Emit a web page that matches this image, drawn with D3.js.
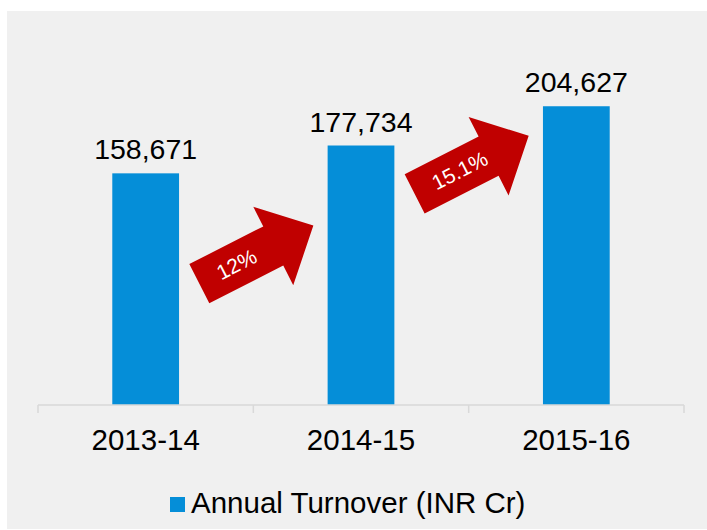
<!DOCTYPE html>
<html>
<head>
<meta charset="utf-8">
<script src="https://cdn.jsdelivr.net/npm/d3@7"></script>
<style>
  body { margin: 0; background: #fff; }
  svg { display: block; font-family: "Liberation Sans", Arial, sans-serif; }
</style>
</head>
<body>
<div id="chart"></div>
<script>
// chart data
var years = ["2013-14", "2014-15", "2015-16"];
var turnover = [158671, 177734, 204627];
var growthLabels = ["12%", "15.1%"];
// value level (in INR Cr) where each growth arrow sits
var growthAnchor = [103000, 164500];
var seriesName = "Annual Turnover (INR Cr)";

var width = 707, height = 530;

var svg = d3.select("#chart")
  .append("svg")
  .attr("width", width)
  .attr("height", height);

// grey chart area
svg.append("rect")
  .attr("x", 7)
  .attr("y", 11)
  .attr("width", width - 7)
  .attr("height", 518)
  .attr("fill", "#f0f0f0");

// scales
var x = d3.scaleBand()
  .domain(years)
  .range([38, 684])
  .paddingInner(0.69)
  .paddingOuter(0.345);

var y = d3.scaleLinear()
  .domain([0, 250000])
  .range([405, 40]);

// bars
svg.selectAll(".bar")
  .data(years)
  .join("rect")
  .attr("class", "bar")
  .attr("x", function (d) { return x(d); })
  .attr("y", function (d, i) { return y(turnover[i]); })
  .attr("width", x.bandwidth())
  .attr("height", function (d, i) { return y(0) - y(turnover[i]); })
  .attr("fill", "#058ed8");

// value labels
svg.selectAll(".value-label")
  .data(years)
  .join("text")
  .attr("class", "value-label")
  .attr("x", function (d) { return x(d) + x.bandwidth() / 2; })
  .attr("y", function (d, i) { return y(turnover[i]) - 14; })
  .attr("text-anchor", "middle")
  .attr("font-size", 28.5)
  .attr("fill", "#000")
  .text(function (d, i) { return d3.format(",")(turnover[i]); });

// x axis: baseline + tick marks between categories
var x0 = x.range()[0], x1 = x.range()[1];
svg.append("line")
  .attr("x1", x0).attr("x2", x1)
  .attr("y1", y(0)).attr("y2", y(0))
  .attr("stroke", "#d9d9d9")
  .attr("stroke-width", 1.5);

var tickPos = d3.range(years.length + 1).map(function (i) { return x0 + i * x.step(); });
svg.selectAll(".tick-mark")
  .data(tickPos)
  .join("line")
  .attr("class", "tick-mark")
  .attr("x1", function (d) { return d; })
  .attr("x2", function (d) { return d; })
  .attr("y1", y(0))
  .attr("y2", y(0) + 8)
  .attr("stroke", "#d9d9d9")
  .attr("stroke-width", 1.5);

svg.selectAll(".cat-label")
  .data(years)
  .join("text")
  .attr("class", "cat-label")
  .attr("x", function (d) { return x(d) + x.bandwidth() / 2; })
  .attr("y", 450)
  .attr("text-anchor", "middle")
  .attr("font-size", 29.5)
  .attr("fill", "#000")
  .text(function (d) { return d; });

// growth arrows (drawn along the local x axis, then rotated)
var arrowLen = 128, shaftHalf = 22, headHalf = 44, headLen = 45;
var arrowPath = "M0," + (-shaftHalf) +
  "H" + (arrowLen - headLen) + "V" + (-headHalf) +
  "L" + arrowLen + ",0" +
  "L" + (arrowLen - headLen) + "," + headHalf +
  "V" + shaftHalf + "H0Z";

var arrows = svg.selectAll(".growth")
  .data(growthLabels)
  .join("g")
  .attr("class", "growth")
  .attr("transform", function (d, i) {
    var cx = x(years[i]) + x.bandwidth() / 2 + x.step() / 2 + 3;
    var cy = y(growthAnchor[i]);
    return "translate(" + cx + "," + cy + ") rotate(-27) translate(" + (-arrowLen / 2) + ",0)";
  });

arrows.append("path")
  .attr("d", arrowPath)
  .attr("fill", "#c00000");

arrows.append("text")
  .attr("x", 21)
  .attr("y", 7)
  .attr("font-size", 21)
  .attr("fill", "#fff")
  .text(function (d) { return d; });

// legend
var legend = svg.append("g").attr("transform", "translate(170,497)");
legend.append("rect")
  .attr("width", 15)
  .attr("height", 15)
  .attr("fill", "#058ed8");
legend.append("text")
  .attr("x", 21)
  .attr("y", 16)
  .attr("font-size", 29.5)
  .attr("fill", "#000")
  .text(seriesName);
</script>
</body>
</html>
